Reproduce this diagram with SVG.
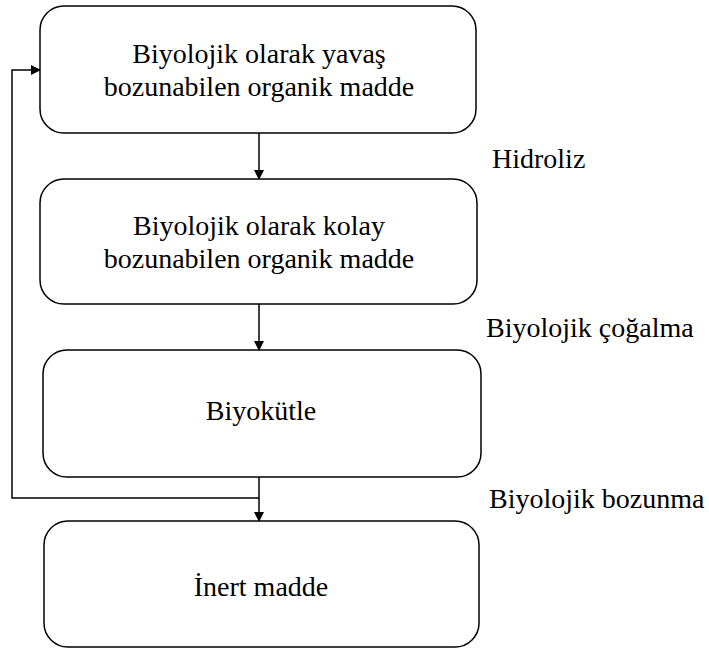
<svg xmlns="http://www.w3.org/2000/svg" width="709" height="648" viewBox="0 0 709 648">
  <style>
    .box { fill: #ffffff; stroke: #000000; stroke-width: 1.5; }
    .lbl { font-family: 'Liberation Serif', 'Times New Roman', Times, serif; font-size: 28px; fill: #000000; }
    .mid { text-anchor: middle; }
    .wire { fill: none; stroke: #000000; stroke-width: 1.5; }
  </style>
  <defs>
    <marker id="arrow" markerWidth="10" markerHeight="10" refX="9" refY="5" orient="auto" markerUnits="userSpaceOnUse">
      <path d="M0,0 L10,5 L0,10 Z" fill="#000000"/>
    </marker>
  </defs>
  <rect width="709" height="648" fill="#ffffff"/>

  <g id="connectors">
    <line class="wire" x1="259" y1="133" x2="259" y2="179" marker-end="url(#arrow)"/>
    <line class="wire" x1="259" y1="304" x2="259" y2="350" marker-end="url(#arrow)"/>
    <line class="wire" x1="259" y1="477" x2="259" y2="521" marker-end="url(#arrow)"/>
    <polyline class="wire" points="259,498 12,498 12,70 40,70" marker-end="url(#arrow)"/>
  </g>

  <g font-family="Liberation Serif, serif">
    <g id="slow-organic">
      <rect class="box" x="40" y="6" width="436" height="127" rx="24" ry="24"/>
      <text class="lbl mid" x="259" y="63">Biyolojik olarak yavaş</text>
      <text class="lbl mid" x="259" y="96">bozunabilen organik madde</text>
    </g>

    <g id="fast-organic">
      <rect class="box" x="40" y="179" width="437" height="125" rx="24" ry="24"/>
      <text class="lbl mid" x="259" y="235">Biyolojik olarak kolay</text>
      <text class="lbl mid" x="259" y="268">bozunabilen organik madde</text>
    </g>

    <g id="biomass">
      <rect class="box" x="43" y="350" width="438" height="127" rx="24" ry="24"/>
      <text class="lbl mid" x="261" y="420">Biyokütle</text>
    </g>

    <g id="inert">
      <rect class="box" x="44" y="521" width="435" height="126" rx="24" ry="24"/>
      <text class="lbl mid" x="261" y="596">İnert madde</text>
    </g>

    <g id="process-labels">
      <text class="lbl" x="492" y="168">Hidroliz</text>
      <text class="lbl" x="486" y="337">Biyolojik çoğalma</text>
      <text class="lbl" x="489" y="508">Biyolojik bozunma</text>
    </g>
  </g>
</svg>
